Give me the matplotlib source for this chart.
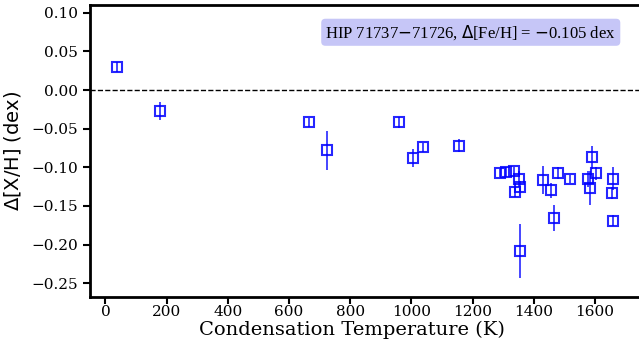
import matplotlib
matplotlib.use("Agg")
import matplotlib.pyplot as plt

# condensation temperatures (K) and abundance differences
tcond = [39, 180, 666, 725, 958, 1006, 1037, 1157, 1289, 1308, 1334, 1352, 1354,
         1337, 1356, 1430, 1455, 1478, 1465, 1517, 1590, 1602, 1578, 1582,
         1660, 1654, 1660]
dxh = [0.030, -0.027, -0.042, -0.078, -0.042, -0.088, -0.074, -0.072, -0.107,
       -0.106, -0.105, -0.115, -0.125, -0.132, -0.208, -0.116, -0.130, -0.107,
       -0.166, -0.115, -0.087, -0.108, -0.115, -0.127, -0.115, -0.133, -0.169]
err = [0.006, 0.012, 0.006, 0.025, 0.007, 0.012, 0.006, 0.008, 0.005, 0.006,
       0.005, 0.010, 0.007, 0.007, 0.035, 0.018, 0.010, 0.008, 0.017, 0.005,
       0.015, 0.008, 0.010, 0.022, 0.015, 0.008, 0.007]
label = "HIP 71737$-$71726, $\\Delta$[Fe/H] = $-$0.105 dex"

plt.rcParams['font.family'] = 'DejaVu Serif'

fig = plt.figure(figsize=(6.39, 3.41), dpi=100)
ax = fig.add_axes([0.141, 0.129, 0.862, 0.856])

ax.axhline(0.0, color='black', ls='--', lw=1)
ax.errorbar(tcond, dxh, yerr=err, fmt='s', mfc='none', mec='blue', ecolor='blue',
            ms=7.5, mew=1.5, elinewidth=1.2, alpha=0.85)

ax.set_xlim(-50, 1750)
ax.set_ylim(-0.268, 0.11)
ax.set_xticks([0, 200, 400, 600, 800, 1000, 1200, 1400, 1600])
ax.set_yticks([0.10, 0.05, 0.00, -0.05, -0.10, -0.15, -0.20, -0.25])
ax.tick_params(labelsize=11, width=1.5, length=5)
ax.tick_params(axis='x', pad=1)
for s in ax.spines.values():
    s.set_linewidth(2)

ax.set_xlabel("Condensation Temperature (K)", fontsize=14)
ax.xaxis.set_label_coords(0.476, -0.08)
ax.set_ylabel("$\\Delta$[X/H] (dex)", fontsize=14, family='DejaVu Sans', labelpad=6)

ax.text(0.955, 0.907, label, transform=ax.transAxes, ha='right', va='center',
        fontsize=12, family='Liberation Serif',
        bbox=dict(boxstyle='round,pad=0.25', fc='#c6c6f7', ec='none'))

fig.savefig("out.png", dpi=100)
